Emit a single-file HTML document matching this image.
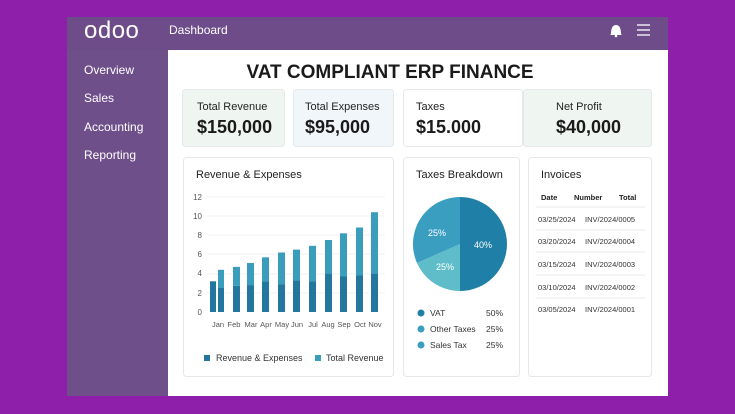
<!DOCTYPE html>
<html><head><meta charset="utf-8"><style>
html,body{margin:0;padding:0;width:735px;height:414px;overflow:hidden;background:#8d1fab}
svg{display:block;font-family:"Liberation Sans",sans-serif}
</style></head><body>
<svg width="735" height="414" viewBox="0 0 735 414">
<rect x="0" y="0" width="735" height="414" fill="#8d1fab"/>
<rect x="67" y="17" width="601" height="33" fill="#6d4c89"/>
<rect x="67" y="50" width="101" height="346" fill="#6e4f8a"/>
<rect x="168" y="50" width="500" height="346" fill="#ffffff"/>
<text x="84" y="38" fill="#fff" font-size="24" letter-spacing="0.5">odoo</text>
<text x="169" y="34" fill="#fff" font-size="12">Dashboard</text>
<path d="M611 34 q0-9 5-9 q5 0 5 9 l1 1 h-12z" fill="#fff"/><circle cx="616" cy="36" r="1.3" fill="#fff"/>
<g stroke="#fff" stroke-width="1.3"><line x1="637" y1="25" x2="650" y2="25"/><line x1="637" y1="30" x2="650" y2="30"/><line x1="637" y1="35" x2="650" y2="35"/></g>
<g fill="#fff" font-size="12"><text x="84" y="74">Overview</text><text x="84" y="102">Sales</text><text x="84" y="131">Accounting</text><text x="84" y="159">Reporting</text></g>
<text x="390" y="78" text-anchor="middle" font-size="19" font-weight="bold" fill="#1a1a1a">VAT COMPLIANT ERP FINANCE</text>
<g stroke="#e6e8ea" stroke-width="1">
<rect x="182.5" y="89.5" width="102" height="57" rx="3" fill="#eff6f2"/>
<rect x="293.5" y="89.5" width="100" height="57" rx="3" fill="#f1f6fa"/>
<rect x="403.5" y="89.5" width="119" height="57" rx="3" fill="#fff"/>
<rect x="523.5" y="89.5" width="128" height="57" rx="3" fill="#eff6f2"/>
<rect x="183.5" y="157.5" width="210" height="219" rx="3" fill="#fff"/>
<rect x="403.5" y="157.5" width="116" height="219" rx="3" fill="#fff"/>
<rect x="528.5" y="157.5" width="123" height="219" rx="3" fill="#fff"/>
</g>
<g fill="#222" font-size="11"><text x="197" y="110">Total Revenue</text><text x="305" y="110">Total Expenses</text><text x="416" y="110">Taxes</text><text x="556" y="110">Net Profit</text></g>
<g fill="#1a1a1a" font-size="18" font-weight="bold"><text x="197" y="133">$150,000</text><text x="305" y="133">$95,000</text><text x="416" y="133">$15.000</text><text x="556" y="133">$40,000</text></g>
<g fill="#222" font-size="11"><text x="196" y="178">Revenue &amp; Expenses</text><text x="416" y="178">Taxes Breakdown</text><text x="541" y="178">Invoices</text></g>
<g fill="#555" font-size="8" text-anchor="end"><text x="202" y="200">12</text><text x="202" y="219">10</text><text x="202" y="238">8</text><text x="202" y="257">6</text><text x="202" y="276">4</text><text x="202" y="296">2</text><text x="202" y="315">0</text></g>
<g stroke="#f0f0f0"><line x1="207" y1="197" x2="385" y2="197"/><line x1="207" y1="216" x2="385" y2="216"/><line x1="207" y1="235" x2="385" y2="235"/><line x1="207" y1="254" x2="385" y2="254"/><line x1="207" y1="274" x2="385" y2="274"/><line x1="207" y1="293" x2="385" y2="293"/></g>
<g id="bars"></g>
<g fill="#555" font-size="7.5" text-anchor="middle"><text x="218" y="327">Jan</text><text x="234" y="327">Feb</text><text x="251" y="327">Mar</text><text x="266" y="327">Apr</text><text x="282" y="327">May</text><text x="297" y="327">Jun</text><text x="313" y="327">Jul</text><text x="328" y="327">Aug</text><text x="344" y="327">Sep</text><text x="360" y="327">Oct</text><text x="375" y="327">Nov</text></g>
<rect x="204" y="355" width="6" height="6" fill="#23769e"/><text x="216" y="361" font-size="9" fill="#333">Revenue &amp; Expenses</text>
<rect x="315" y="355" width="6" height="6" fill="#3a9dbb"/><text x="326" y="361" font-size="9" fill="#333">Total Revenue</text>
<path d="M460 244 L460 197 A47 47 0 0 1 460 291 Z" fill="#1f7fa6"/>
<path d="M460 244 L460 291 A47 47 0 0 1 417 263 Z" fill="#5fbdc9"/>
<path d="M460 244 L417 263 A47 47 0 0 1 460 197 Z" fill="#3a9ec1"/>
<g fill="#fff" font-size="9"><text x="428" y="236">25%</text><text x="436" y="270">25%</text><text x="474" y="248">40%</text></g>
<circle cx="421" cy="313" r="3.5" fill="#1f7fa6"/><circle cx="421" cy="329" r="3.5" fill="#3a9ec1"/><circle cx="421" cy="345" r="3.5" fill="#3a9ec1"/>
<g fill="#333" font-size="8.5"><text x="430" y="316">VAT</text><text x="430" y="332">Other Taxes</text><text x="430" y="348">Sales Tax</text><text x="486" y="316">50%</text><text x="486" y="332">25%</text><text x="486" y="348">25%</text></g>
<g fill="#222" font-size="7.5" font-weight="bold"><text x="541" y="200">Date</text><text x="574" y="200">Number</text><text x="619" y="200">Total</text></g>
<g stroke="#eaeaea"><line x1="536" y1="207" x2="645" y2="207"/><line x1="536" y1="230" x2="645" y2="230"/><line x1="536" y1="252" x2="645" y2="252"/><line x1="536" y1="275" x2="645" y2="275"/><line x1="536" y1="298" x2="645" y2="298"/></g>
<g fill="#333" font-size="7.5"><text x="538" y="222">03/25/2024</text><text x="585" y="222">INV/2024/0005</text><text x="538" y="244">03/20/2024</text><text x="585" y="244">INV/2024/0004</text><text x="538" y="267">03/15/2024</text><text x="585" y="267">INV/2024/0003</text><text x="538" y="290">03/10/2024</text><text x="585" y="290">INV/2024/0002</text><text x="538" y="312">03/05/2024</text><text x="585" y="312">INV/2024/0001</text></g>
<g>
<rect x="210" y="281.3" width="6" height="30.7" fill="#23769e"/>
<rect x="218" y="269.8" width="6" height="18.2" fill="#3a9dbb"/><rect x="218" y="288" width="6" height="24" fill="#23769e"/>
<rect x="233" y="266.9" width="7" height="19" fill="#3a9dbb"/><rect x="233" y="286" width="7" height="26" fill="#23769e"/>
<rect x="247" y="263" width="7" height="22.1" fill="#3a9dbb"/><rect x="247" y="285.1" width="7" height="26.9" fill="#23769e"/>
<rect x="262" y="257.3" width="7" height="24" fill="#3a9dbb"/><rect x="262" y="281.3" width="7" height="30.7" fill="#23769e"/>
<rect x="278" y="252.5" width="7" height="31.7" fill="#3a9dbb"/><rect x="278" y="284.2" width="7" height="27.8" fill="#23769e"/>
<rect x="293" y="249.6" width="7" height="30.7" fill="#3a9dbb"/><rect x="293" y="280.3" width="7" height="31.7" fill="#23769e"/>
<rect x="309" y="245.8" width="7" height="35.5" fill="#3a9dbb"/><rect x="309" y="281.3" width="7" height="30.7" fill="#23769e"/>
<rect x="325" y="240" width="7" height="33.6" fill="#3a9dbb"/><rect x="325" y="273.6" width="7" height="38.4" fill="#23769e"/>
<rect x="340" y="233.3" width="7" height="43.2" fill="#3a9dbb"/><rect x="340" y="276.5" width="7" height="35.5" fill="#23769e"/>
<rect x="356" y="227.5" width="7" height="48" fill="#3a9dbb"/><rect x="356" y="275.5" width="7" height="36.5" fill="#23769e"/>
<rect x="371" y="212.2" width="7" height="61.4" fill="#3a9dbb"/><rect x="371" y="273.6" width="7" height="38.4" fill="#23769e"/>
</g>
</svg>
</body></html>
